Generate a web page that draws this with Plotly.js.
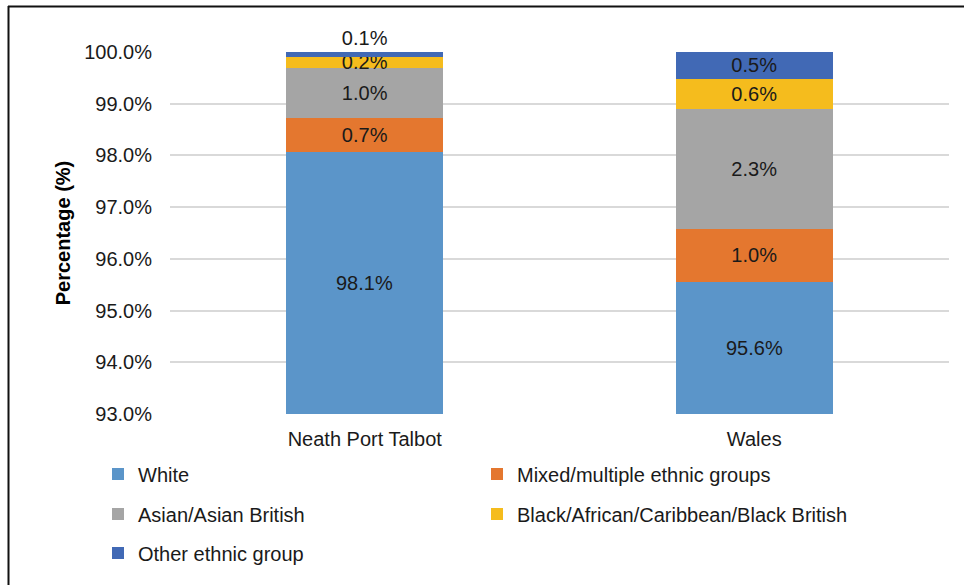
<!DOCTYPE html>
<html>
<head>
<meta charset="utf-8">
<script src="https://cdn.plot.ly/plotly-3.0.1.min.js"></script>
<style>html,body{margin:0;padding:0;background:#fff}#chart{width:964px;height:585px}</style>
</head>
<body>
<div id="chart"></div>
<script>
const categories = ["Neath Port Talbot", "Wales"];
const seriesNames = ["White", "Mixed/multiple ethnic groups", "Asian/Asian British", "Black/African/Caribbean/Black British", "Other ethnic group"];
const white = [98.06, 95.56];
const mixed = [0.66, 1.02];
const asian = [0.98, 2.31];
const black = [0.20, 0.59];
const other = [0.10, 0.52];
const yTicks = [93, 94, 95, 96, 97, 98, 99, 100];

const seriesValues = [white, mixed, asian, black, other];
const colors = ["#5b95c9", "#e4772f", "#a5a5a5", "#f5bc1d", "#4169b5"];
const FONT = "Liberation Sans, Arial, sans-serif";
const TXT = "#1a1a1a";
const yRange = [yTicks[0], yTicks[yTicks.length - 1]];

// legend placement (container px): [x, yCenter]
const legendPos = [[98, 474], [477, 474], [98, 514], [477, 514], [98, 553]];
const legendKeys = ["legend", "legend2", "legend3", "legend4", "legend5"];

const traces = seriesValues.map((vals, i) => ({
  type: "bar",
  name: seriesNames[i],
  x: categories,
  y: vals,
  marker: { color: colors[i], line: { width: 0 } },
  texttemplate: "%{y:.1f}%",
  textposition: i === 0 ? "none" : (i === 4 ? ["outside", "inside"] : "inside"),
  insidetextanchor: "middle",
  constraintext: "none",
  textangle: 0,
  textfont: { family: FONT, size: 20, color: TXT },
  insidetextfont: { family: FONT, size: 20, color: TXT },
  outsidetextfont: { family: FONT, size: 20, color: TXT },
  cliponaxis: i === 4 ? false : true,
  hoverinfo: "skip",
  legend: legendKeys[i]
}));

// labels of the base segment, centred in its visible part
const annotations = white.map((v, j) => ({
  xref: "x", yref: "y",
  x: categories[j],
  y: (yRange[0] + Math.min(v, yRange[1])) / 2,
  text: v.toFixed(1) + "%",
  showarrow: false,
  font: { family: FONT, size: 20, color: TXT }
}));

const W = 964, H = 585;
const L = 170, R = 15, T = 52, B = 171;
const pw = W - L - R, ph = H - T - B;
const px = x => (x - L) / pw;
const py = y => (H - B - y) / ph;

const layout = {
  width: W, height: H,
  margin: { l: L, r: R, t: T, b: B, pad: 0 },
  paper_bgcolor: "#ffffff",
  plot_bgcolor: "#ffffff",
  barmode: "stack",
  bargap: 0.597,
  font: { family: FONT, size: 20, color: TXT },
  xaxis: {
    type: "category",
    showgrid: false, zeroline: false, showline: false,
    ticks: "",
    tickfont: { family: FONT, size: 20, color: TXT },
    ticklabelstandoff: 11
  },
  yaxis: {
    range: yRange,
    tickvals: yTicks,
    ticktext: yTicks.map(v => v.toFixed(1) + "%"),
    showgrid: true, gridcolor: "#d9d9d9", gridwidth: 2,
    zeroline: false, showline: false,
    ticks: "",
    tickfont: { family: FONT, size: 20, color: TXT },
    ticklabelstandoff: 17,
    title: { text: "<b>Percentage (%)</b>", font: { family: FONT, size: 20, color: "#000" }, standoff: 8 }
  },
  annotations: annotations,
  showlegend: true,
  shapes: [
    { type: "line", xref: "paper", yref: "paper", x0: px(8), x1: px(980), y0: py(6.5), y1: py(6.5), line: { color: "#111", width: 2 } },
    { type: "line", xref: "paper", yref: "paper", x0: px(8.5), x1: px(8.5), y0: py(6), y1: py(600), line: { color: "#111", width: 2 } }
  ]
};
legendKeys.forEach((k, i) => {
  layout[k] = {
    xref: "container", yref: "container",
    x: legendPos[i][0] / W, y: 1 - legendPos[i][1] / H,
    xanchor: "left", yanchor: "middle",
    orientation: "h",
    bgcolor: "rgba(0,0,0,0)",
    font: { family: FONT, size: 20, color: TXT },
    itemclick: false, itemdoubleclick: false
  };
});

Plotly.newPlot("chart", traces, layout, { displayModeBar: false, staticPlot: true });
</script>
</body>
</html>
